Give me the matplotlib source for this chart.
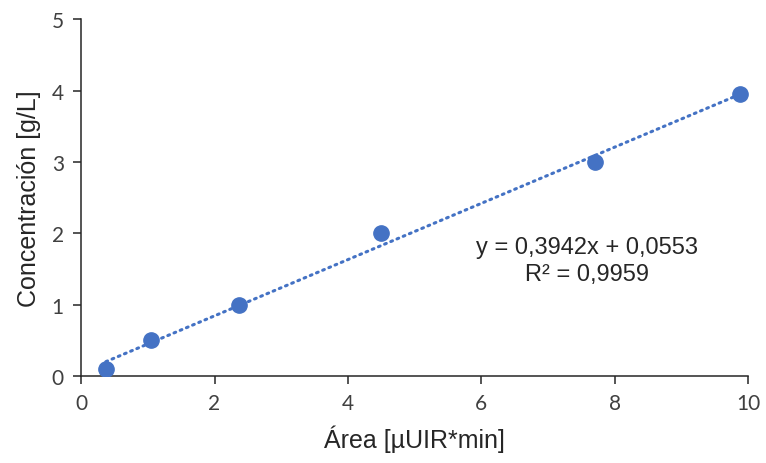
import matplotlib.pyplot as plt
import numpy as np

plt.rcParams['font.family'] = ['Liberation Sans', 'DejaVu Sans']

# Calibration data
area = [0.37, 1.05, 2.37, 4.50, 7.71, 9.88]
concentration = [0.1, 0.5, 1.0, 2.0, 3.0, 3.95]

# Trendline coefficients shown on the chart
slope = 0.3942
intercept = 0.0553
eq_text = "y = 0,3942x + 0,0553"
r2_text = "R² = 0,9959"

blue = '#4472C4'

fig = plt.figure(figsize=(7.66, 4.64), dpi=100)
ax = fig.add_axes([0.106, 0.1875, 0.8705, 0.7685])

# Linear trendline over the data range
xs = np.array([min(area), max(area)])
ax.plot(xs, slope * xs + intercept, linestyle=(0, (0.6, 1.6)), color=blue,
        linewidth=2.2, dash_capstyle='round', zorder=2)

# Data points
ax.plot(area, concentration, 'o', color=blue, markersize=11, zorder=3)

ax.set_xlim(0, 10)
ax.set_ylim(0, 5)
ax.set_xticks([0, 2, 4, 6, 8, 10])
ax.set_yticks([0, 1, 2, 3, 4, 5])

for side in ['top', 'right']:
    ax.spines[side].set_visible(False)
for side in ['left', 'bottom']:
    ax.spines[side].set_linewidth(1.1)
    ax.spines[side].set_color('#262626')

ax.tick_params(length=5.5, width=1.1, color='#262626', labelcolor='#404040',
               labelsize=15, pad=7)
for lab in ax.get_xticklabels() + ax.get_yticklabels():
    lab.set_family(['Lato', 'DejaVu Sans'])

ax.set_xlabel('Área [µUIR*min]', fontsize=18, color='#262626', labelpad=8)
ax.set_ylabel('Concentración [g/L]', fontsize=18, color='#262626', labelpad=8)

ax.text(7.58, 1.81, eq_text, fontsize=17, ha='center', va='center', color='#262626')
ax.text(7.58, 1.43, r2_text, fontsize=17, ha='center', va='center', color='#262626')

fig.savefig('out.png', dpi=100)
